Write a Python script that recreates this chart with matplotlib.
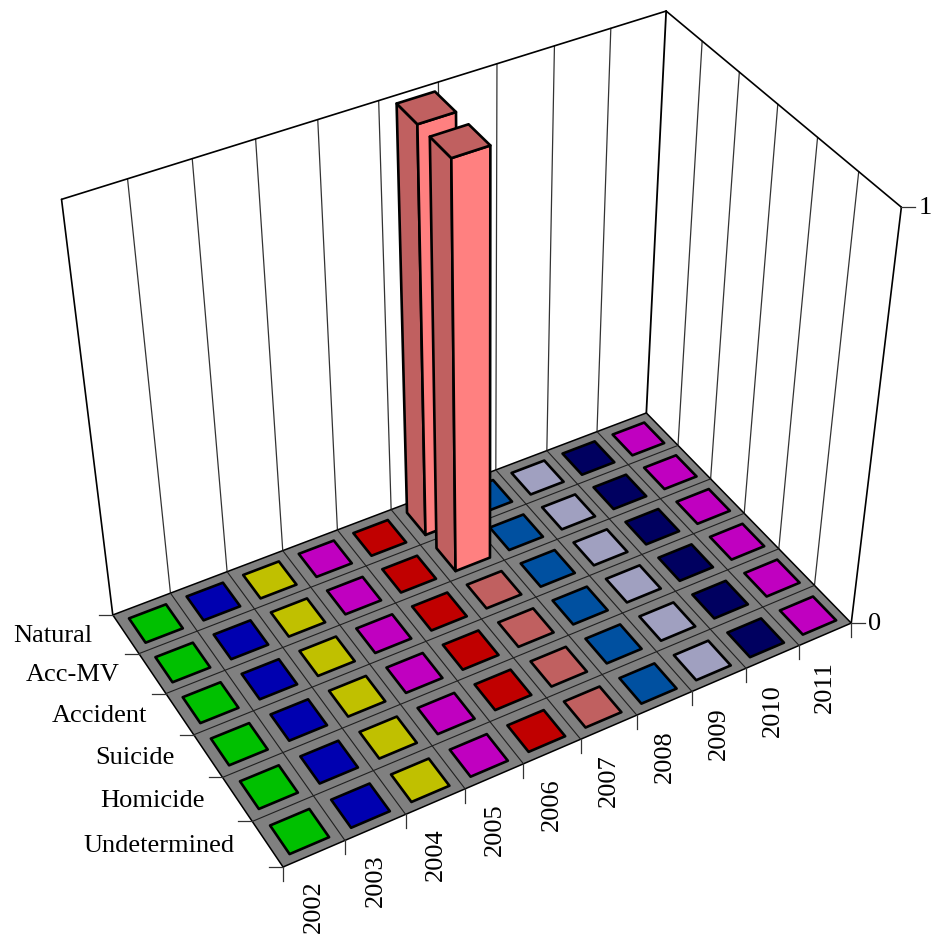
import numpy as np
import matplotlib
matplotlib.use("Agg")
import matplotlib.pyplot as plt
from matplotlib.patches import Polygon

plt.rcParams["font.family"] = ["Liberation Serif", "DejaVu Serif"]

YEARS = ["2002", "2003", "2004", "2005", "2006", "2007", "2008", "2009", "2010", "2011"]
CAUSES = ["Undetermined", "Homicide", "Suicide", "Accident", "Acc-MV", "Natural"]

# one row per cause, same order as CAUSES
UNDETERMINED = [0, 0, 0, 0, 0, 0, 0, 0, 0, 0]
HOMICIDE = [0, 0, 0, 0, 0, 0, 0, 0, 0, 0]
SUICIDE = [0, 0, 0, 0, 0, 0, 0, 0, 0, 0]
ACCIDENT = [0, 0, 0, 0, 0, 0, 0, 0, 0, 0]
ACC_MV = [0, 0, 0, 0, 0, 1, 0, 0, 0, 0]
NATURAL = [0, 0, 0, 0, 0, 1, 0, 0, 0, 0]
VALUES = [UNDETERMINED, HOMICIDE, SUICIDE, ACCIDENT, ACC_MV, NATURAL]

Z_TICKS = [0, 1]

TOP_COLORS = ["#00c000", "#0000b0", "#c0c000", "#c000c0", "#c00000",
              "#c06060", "#0050a0", "#a0a0c0", "#000060", "#c000c0"]
FRONT_COLORS = ["#00ff00", "#0000ff", "#ffff00", "#ff00ff", "#ff0000",
                "#ff8080", "#0070e0", "#d0d0ff", "#000090", "#ff00ff"]

WIDTH, HEIGHT = 933, 939
GRID_GRAY = "#333333"

# (year pos, cause pos, z) -> pixel, used to fit the camera
NX, NY = len(YEARS), len(CAUSES)
CALIBRATION = [
    ((0, 0, 0), (283.0, 867.0)),
    ((NX, 0, 0), (851.0, 623.0)),
    ((0, NY, 0), (112.7, 615.0)),
    ((NX, NY, 0), (646.7, 413.0)),
    ((0, NY, 1), (61.7, 199.3)),
    ((NX, NY, 1), (665.7, 11.0)),
    ((NX, 0, 1), (901.7, 207.3)),
]


def fit_camera(points):
    rows = []
    for (x, y, z), (u, v) in points:
        u, v = u / 1000, v / 1000
        rows.append([x, y, z, 1, 0, 0, 0, 0, -u * x, -u * y, -u * z, -u])
        rows.append([0, 0, 0, 0, x, y, z, 1, -v * x, -v * y, -v * z, -v])
    return np.linalg.svd(np.array(rows, dtype=float))[2][-1].reshape(3, 4)


CAMERA = fit_camera(CALIBRATION)


def project(x, y, z=0):
    u, v, w = CAMERA @ np.array([x, y, z, 1.0])
    return 1000 * u / w, 1000 * v / w


def face(ax, corners, color, lw=1.9, zorder=3):
    ax.add_patch(Polygon([project(*c) for c in corners], closed=True,
                         facecolor=color, edgecolor="black", linewidth=lw,
                         joinstyle="round", zorder=zorder))


def line(ax, a, b, color="black", lw=1.0, zorder=2):
    pa, pb = project(*a), project(*b)
    ax.plot([pa[0], pb[0]], [pa[1], pb[1]], color=color, lw=lw,
            solid_capstyle="round", zorder=zorder)


def draw_bar(ax, ix, iy, value):
    x0, x1 = ix + 0.19, ix + 0.83
    y0, y1 = iy + 0.17, iy + 0.80
    if value > 0:
        face(ax, [(x0, y0, 0), (x0, y1, 0), (x0, y1, value), (x0, y0, value)], TOP_COLORS[ix])
        face(ax, [(x0, y0, 0), (x1, y0, 0), (x1, y0, value), (x0, y0, value)], FRONT_COLORS[ix])
    face(ax, [(x0, y0, value), (x1, y0, value), (x1, y1, value), (x0, y1, value)], TOP_COLORS[ix])


def main():
    fig = plt.figure(figsize=(WIDTH / 100, HEIGHT / 100), dpi=100)
    ax = fig.add_axes([0, 0, 1, 1])
    ax.set_xlim(0, WIDTH)
    ax.set_ylim(HEIGHT, 0)
    ax.axis("off")

    # walls
    for ix in range(1, NX):
        line(ax, (ix, NY, 0), (ix, NY, 1), GRID_GRAY, 0.9, zorder=1)
    for iy in range(1, NY):
        line(ax, (NX, iy, 0), (NX, iy, 1), GRID_GRAY, 0.9, zorder=1)
    line(ax, (0, NY, 0), (0, NY, 1), lw=1.2, zorder=1)
    line(ax, (NX, NY, 0), (NX, NY, 1), lw=1.3, zorder=1)
    line(ax, (NX, 0, 0), (NX, 0, 1), lw=1.2, zorder=1)
    line(ax, (0, NY, 1), (NX, NY, 1), lw=1.2, zorder=1)
    line(ax, (NX, NY, 1), (NX, 0, 1), lw=1.2, zorder=1)

    # floor
    face(ax, [(0, 0, 0), (NX, 0, 0), (NX, NY, 0), (0, NY, 0)], "#808080", lw=1.1, zorder=1.5)
    for ix in range(1, NX):
        line(ax, (ix, 0, 0), (ix, NY, 0), "#202020", 0.8)
    for iy in range(1, NY):
        line(ax, (0, iy, 0), (NX, iy, 0), "#202020", 0.8)

    # ticks and labels
    for ix in range(NX + 1):
        px, py = project(ix, 0)
        ax.plot([px, px], [py, py + 14], color=GRID_GRAY, lw=0.9)
    for iy in range(NY + 1):
        px, py = project(0, iy)
        ax.plot([px - 14, px], [py, py], color=GRID_GRAY, lw=0.9)
    for ix, year in enumerate(YEARS):
        px, py = project(ix + 0.5, 0)
        ax.text(px, py + 27, year, rotation=90, ha="center", va="top", fontsize=19)
    for iy, cause in enumerate(CAUSES):
        px, py = project(0, iy + 0.5)
        ax.text(px - 33, py + 2, cause, ha="right", va="center", fontsize=19)
    for z in Z_TICKS:
        px, py = project(NX, 0, z)
        ax.plot([px, px + 14], [py, py], color=GRID_GRAY, lw=0.9)
        ax.text(px + 17, py + 1, str(z), ha="left", va="center", fontsize=19)

    # back to front so the tall bars cover what is behind them
    for iy in range(NY - 1, -1, -1):
        for ix in range(NX - 1, -1, -1):
            draw_bar(ax, ix, iy, VALUES[iy][ix])

    fig.savefig("out.png", dpi=100)
    plt.close(fig)


if __name__ == "__main__":
    main()
